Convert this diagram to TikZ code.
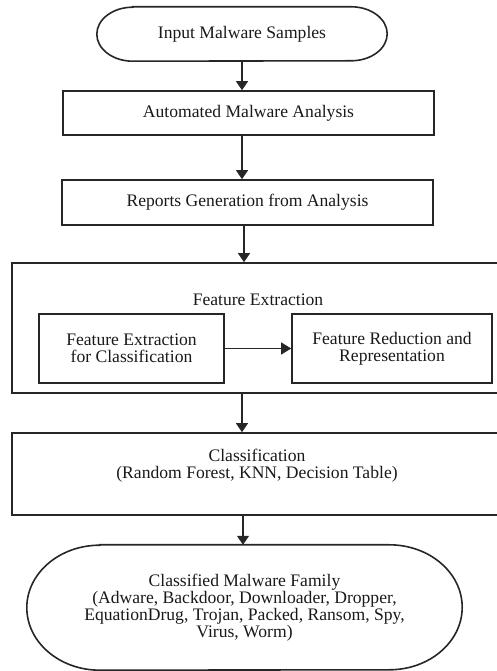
\documentclass[tikz,border=0pt]{standalone}
\usepackage{fontspec}
\setmainfont{Liberation Serif}
\usetikzlibrary{arrows.meta}
\begin{document}
\begin{tikzpicture}[x=1pt,y=1pt,
  font=\fontsize{17.6}{16.8}\selectfont,
  every node/.style={inner sep=0pt,align=center,text=black!90},
  box/.style={draw=black!85,line width=1.6pt},
  outline/.style={draw=black!85,line width=1.6pt},
  arr/.style={draw=black!85,line width=1.1pt,-{Triangle[width=12pt,length=9pt]}},
  thinarr/.style={draw=black!85,line width=0.8pt,-{Triangle[width=12pt,length=10pt]}}]
\useasboundingbox (0,0) rectangle (497,671);
\clip (0,0) rectangle (497,671);

% start terminator
\node[minimum width=290pt,minimum height=54pt] (start) at (242,637) {Input Malware Samples};
\draw[outline] ([xshift=36pt]start.north west) -- ([xshift=-36pt]start.north east)
  arc[start angle=90,end angle=-90,x radius=36pt,y radius=27pt]
  -- ([xshift=36pt]start.south west)
  arc[start angle=270,end angle=90,x radius=36pt,y radius=27pt] -- cycle;

% processing steps
\node[box,minimum width=371pt,minimum height=44pt] (auto) at (248.5,558) {Automated Malware Analysis};
\node[box,minimum width=371pt,minimum height=45pt] (report) at (247.5,468.5) {Reports Generation from Analysis};

% feature extraction group (runs past the right margin)
\node[box,minimum width=510pt,minimum height=130pt] (fe) at (267,343) {};
\node (fetitle) at (258,371) {Feature Extraction};
\node[box,minimum width=185pt,minimum height=69pt] (fecls) at (131.5,322.5) {Feature Extraction\\for Classification};
\node[box,minimum width=200pt,minimum height=69pt] (ferep) at (392,322.5) {Feature Reduction and\\Representation};

% classification (runs past the right margin)
\node[box,minimum width=510pt,minimum height=82pt] (cls) at (267,197) {};
\node (clstext) at (257,205) {Classification\\(Random Forest, KNN, Decision Table)};

% end terminator
\node[minimum width=435pt,minimum height=125pt] (fam) at (244.5,63.5)
  {Classified Malware Family\\(Adware, Backdoor, Downloader, Dropper,\\EquationDrug, Trojan, Packed, Ransom, Spy,\\Virus, Worm)};
\draw[outline] ([xshift=73pt]fam.north west) -- ([xshift=-73pt]fam.north east)
  arc[start angle=90,end angle=-90,x radius=73pt,y radius=62.5pt]
  -- ([xshift=73pt]fam.south west)
  arc[start angle=270,end angle=90,x radius=73pt,y radius=62.5pt] -- cycle;

% connectors
\draw[arr] (start.south) -- (start.south |- auto.north);
\draw[arr] ([xshift=-6.5pt]auto.south) -- ([xshift=-6.5pt]auto.south |- report.north);
\draw[arr] ([xshift=-3.5pt]report.south) -- ([xshift=-3.5pt]report.south |- fe.north);
\draw[thinarr] (fecls.east) -- (ferep.west);
\draw[arr] ([xshift=-25pt]fe.south) -- ([xshift=-25pt]fe.south |- cls.north);
\draw[arr] ([xshift=-24pt]cls.south) -- ([xshift=-24pt]cls.south |- fam.north);
\end{tikzpicture}
\end{document}
